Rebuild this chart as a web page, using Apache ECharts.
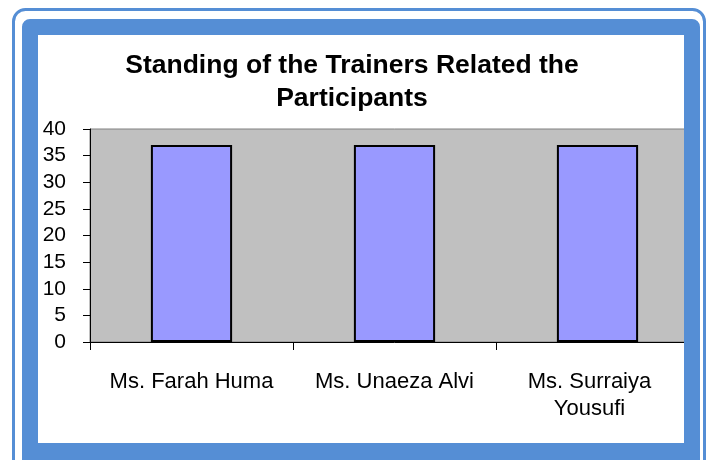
<!DOCTYPE html>
<html>
<head>
<meta charset="utf-8">
<script src="https://cdn.jsdelivr.net/npm/echarts@6/dist/echarts.min.js"></script>
<style>
  html, body { margin: 0; padding: 0; background: #fff; }
  #chart { width: 712px; height: 460px; }
</style>
</head>
<body>
<div id="chart"></div>
<script>
// data
const trainers = ['Ms. Farah Huma', 'Ms. Unaeza Alvi', 'Ms. Surraiya\nYousufi']
const standing = [37, 37, 37]
const yMin = 0
const yMax = 40
const yStep = 5

const font = '"Liberation Sans", Arial, sans-serif'
const frameBlue = '#558ed5'

const chart = echarts.init(document.getElementById('chart'), null, { renderer: 'canvas' })

chart.setOption({
  backgroundColor: '#fff',
  animation: false,
  title: {
    text: 'Standing of the Trainers Related the\nParticipants',
    left: 347,
    top: 44,
    textAlign: 'center',
    textStyle: {
      fontFamily: font,
      fontSize: 26.5,
      fontWeight: 'bold',
      color: '#000',
      lineHeight: 33
    }
  },
  grid: {
    left: 90,
    right: 13,
    top: 129,
    bottom: 118,
    show: true,
    backgroundColor: '#c0c0c0',
    borderColor: '#808080',
    borderWidth: 1
  },
  xAxis: {
    type: 'category',
    data: trainers,
    axisLine: { lineStyle: { color: '#000', width: 1 } },
    axisTick: { show: true, length: 8, lineStyle: { color: '#000' } },
    axisLabel: {
      color: '#000',
      fontFamily: font,
      fontSize: 22,
      lineHeight: 27,
      margin: 26,
      interval: 0,
      // last label sits a little left of its slot, as in the original
      formatter: function (value, idx) {
        if (idx === trainers.length - 1) {
          return value.split('\n').map(s => '{s|' + s + '}').join('\n')
        }
        return value
      },
      rich: {
        s: {
          fontFamily: font,
          fontSize: 22,
          lineHeight: 27,
          color: '#000',
          padding: [0, 16, 0, 0]
        }
      }
    },
    splitLine: { show: false }
  },
  yAxis: {
    type: 'value',
    min: yMin,
    max: yMax,
    interval: yStep,
    axisLine: { show: true, lineStyle: { color: '#000', width: 1 } },
    axisTick: { show: true, length: 7, lineStyle: { color: '#000' } },
    axisLabel: {
      color: '#000',
      fontFamily: font,
      fontSize: 21,
      margin: 24
    },
    splitLine: { show: false }
  },
  series: [
    {
      type: 'bar',
      data: standing,
      barWidth: '40%',
      itemStyle: {
        color: '#9999ff',
        borderColor: '#000',
        borderWidth: 2
      }
    }
  ],
  // blue picture frame around the chart
  graphic: [
    {
      type: 'rect',
      z: 100,
      shape: { x: 13.5, y: 9.5, width: 691, height: 480, r: 12 },
      style: { fill: 'none', stroke: frameBlue, lineWidth: 3 }
    },
    {
      type: 'rect',
      z: 100,
      shape: { x: 30, y: 27, width: 662, height: 424 },
      style: { fill: 'none', stroke: frameBlue, lineWidth: 16, lineJoin: 'round' }
    },
    {
      type: 'rect',
      z: 100,
      shape: { x: 22, y: 443, width: 678, height: 20 },
      style: { fill: frameBlue }
    }
  ]
})
</script>
</body>
</html>
